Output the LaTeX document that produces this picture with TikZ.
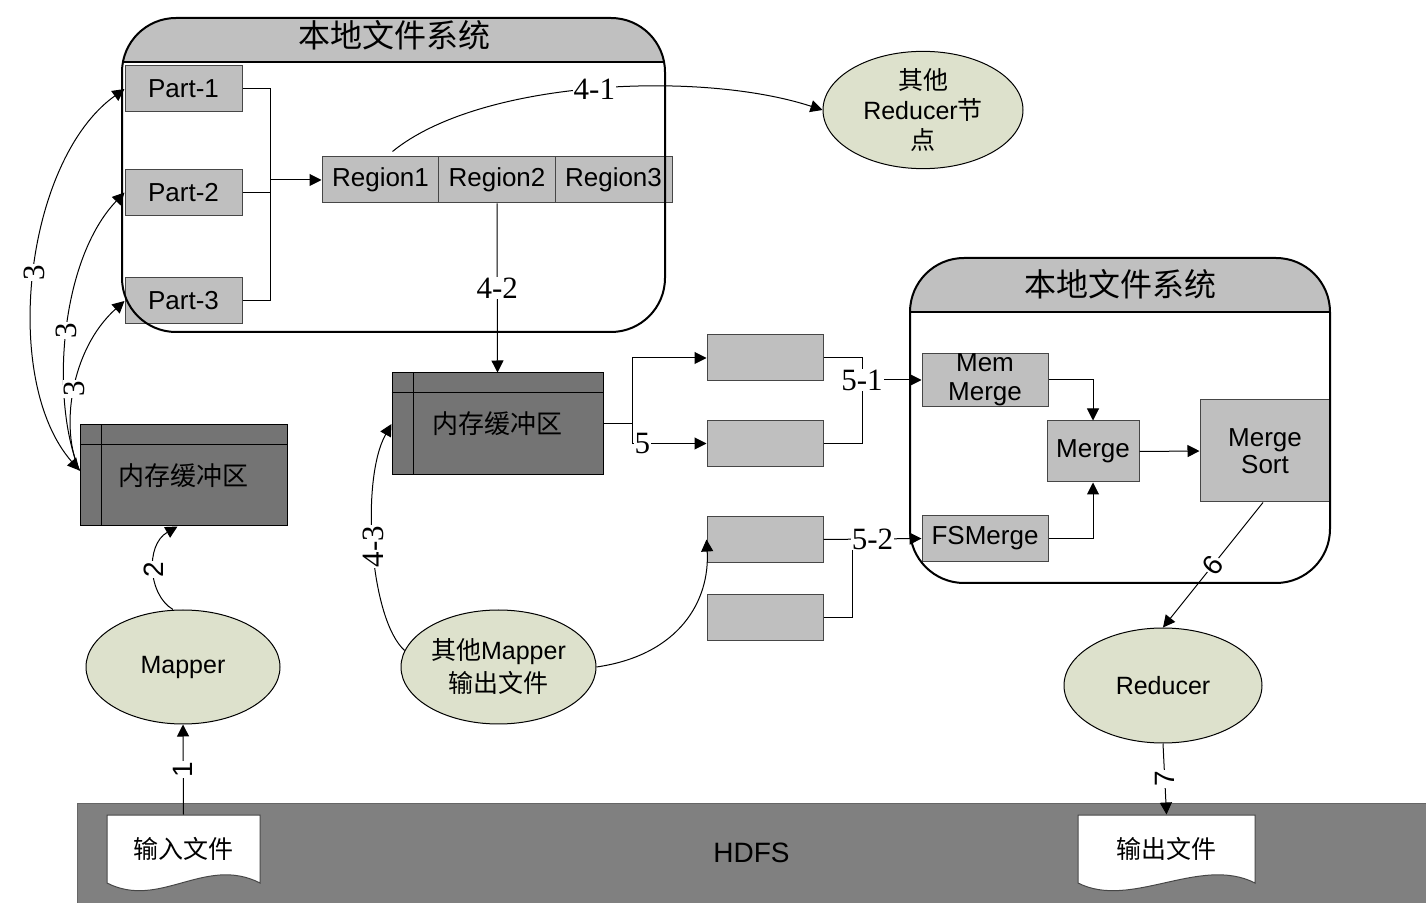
\documentclass[tikz,border=0pt]{standalone}
\usepackage{fontspec}
\setmainfont{Liberation Sans}
\newfontfamily\cjk{Noto Sans CJK SC}
\newfontfamily\numfont{Liberation Serif}
\usetikzlibrary{arrows.meta,shapes.geometric}

\definecolor{boxgray}{RGB}{191,191,191}
\definecolor{boxedge}{RGB}{70,70,70}
\definecolor{headgray}{RGB}{192,192,192}
\definecolor{bufgray}{RGB}{116,116,116}
\definecolor{hdfsgray}{RGB}{128,128,128}
\definecolor{nodegreen}{RGB}{221,225,204}

% local file system frame: x1,y1,x2,y2,header height (pixels)
\newcommand\localfs[5]{
  \fill[white, rounded corners=27pt] (#1,#2) rectangle (#3,#4);
  \begin{scope}
    \clip[rounded corners=27pt] (#1,#2) rectangle (#3,#4);
    \fill[headgray] (#1,#2) rectangle (#3,#2+#5);
  \end{scope}
  \draw[line width=1pt] (#1,#2+#5) -- (#3,#2+#5);
}
% document shape with wavy bottom: centre x, centre y, half width
\newcommand\docshape[3]{
  \draw[fill=white, draw=boxedge] (#1-#3,#2-34) -- (#1+#3,#2-34) -- (#1+#3,#2+34)
    .. controls (#1+#3-55,#2+6) and (#1-#3+53,#2+61) .. (#1-#3,#2+34) -- cycle;
}
% inner lines of a memory buffer
\newcommand\bufferlines[1]{
  \draw ([yshift=-10pt]#1.north west) -- ([yshift=-10pt]#1.north east);
  \draw ([xshift=11pt]#1.north west) -- ([xshift=11pt]#1.south west);
}

\begin{document}
\begin{tikzpicture}[x=0.5pt,y=-0.5pt,line width=0.5pt,
  box/.style={draw=boxedge, fill=boxgray, inner sep=0pt, minimum width=58.5pt,
    minimum height=23pt, font=\fontsize{13}{14.5}\selectfont, align=center},
  buf/.style={draw, fill=bufgray, inner sep=0pt, font=\cjk\fontsize{13}{15}\selectfont},
  proc/.style={ellipse, draw, fill=nodegreen, inner sep=0pt, align=center,
    font=\fontsize{12.5}{15}\selectfont},
  doc/.style={inner sep=0pt, minimum height=34pt, font=\cjk\fontsize{12.5}{15}\selectfont},
  title/.style={font=\cjk\fontsize{16}{18}\selectfont},
  lbl/.style={font=\numfont\fontsize{15.5}{17}\selectfont, fill=white, inner sep=0.5pt},
  slbl/.style={font=\fontsize{14}{16}\selectfont, fill=white, inner sep=0.5pt},
  flow/.style={-{Triangle[length=6pt,width=6pt]}},
  fsborder/.style={line width=1pt, rounded corners=27pt}]

\useasboundingbox (0,0) rectangle (1426,903);

% HDFS
\node[draw=hdfsgray!80!black, fill=hdfsgray, inner sep=0pt, minimum width=674.5pt,
  minimum height=50pt, font=\fontsize{14}{16}\selectfont] (hdfs) at (751.5,853) {HDFS};
\docshape{183.5}{849}{76.5}
\node[doc, minimum width=76.5pt] (indoc) at (183.5,849) {输入文件};
\docshape{1166.5}{849}{88.5}
\node[doc, minimum width=88.5pt] (outdoc) at (1166.5,849) {输出文件};

% Local file systems
\localfs{122}{18}{665}{332}{44}
\node[title] (fsatitle) at (394,35) {本地文件系统};
\localfs{910}{258}{1330}{583}{54}
\node[title] (fsbtitle) at (1120,284) {本地文件系统};

% Parts and regions
\foreach \i/\y in {1/89,2/192.5,3/301}
  \node[box] (part\i) at (183.5,\y) {Part-\i};
\foreach \i/\x in {1/380.5,2/497,3/613.5}
  \node[box] (reg\i) at (\x,180) {Region\i};
\coordinate (pbus) at (270,180);
\draw (part1.east) -| (pbus);
\draw (part3.east) -| (pbus);
\draw (part2.east) -- (part2.east -| pbus);
\draw[flow] (pbus) -- (reg1.west);

% Memory buffers
\node[buf, minimum width=103.5pt, minimum height=50.5pt] (buf1) at (183.5,475.5) {内存缓冲区};
\bufferlines{buf1}
\node[buf, minimum width=105.5pt, minimum height=51pt] (buf2) at (497.5,424) {内存缓冲区};
\bufferlines{buf2}

% Mappers, reducers
\node[proc, minimum width=97pt, minimum height=57pt] (mapper) at (183,667) {Mapper};
\node[proc, minimum width=97.5pt, minimum height=57pt] (othmap) at (498.5,667)
  {{\cjk 其他}Mapper\\[1.5pt]{\cjk 输出文件}};
\node[proc, minimum width=100pt, minimum height=57pt] (othred) at (923,110)
  {{\cjk 其他}\\Reducer{\cjk 节}\\{\cjk 点}};
\node[proc, minimum width=99pt, minimum height=57.5pt] (reducer) at (1163,685.5) {Reducer};

% Spill files
\foreach \n/\y in {A/358,B/443.5,C/539.5,D/617.5}
  \node[box, minimum width=58pt] (spill\n) at (765,\y) {};

% Merge boxes
\node[box, minimum width=63pt, font=\fontsize{13}{14.5}\selectfont] (memm) at (985,380) {Mem\\Merge};
\node[box, minimum width=63pt] (fsm) at (985,538.5) {FSMerge};
\node[box, minimum width=46pt, minimum height=30.5pt] (merge) at (1093,451.5) {Merge};
\node[box, minimum width=65pt, minimum height=51pt, font=\fontsize{13}{13.5}\selectfont] (msort) at (1265,451) {Merge\\Sort};

% 1, 2, 3
\draw[flow] (indoc.north) -- node[slbl, rotate=90] {1} (mapper.south);
\draw[flow] ([xshift=-5pt]mapper.north) .. controls (148,595) and (145,545) ..
  node[slbl, rotate=90] {2} ([xshift=-3pt]buf1.south);
\coordinate (b1in) at ([yshift=2.5pt]buf1.west);
\draw[{Triangle[length=6pt,width=6pt]}-{Triangle[length=6pt,width=6pt]}] (b1in)
  .. controls (0,380) and (25,160) .. node[lbl, rotate=90] {3} (part1.west);
\draw[flow] (b1in) .. controls (50,400) and (60,260) .. node[lbl, rotate=90] {3} (part2.west);
\draw[flow] (b1in) .. controls (60,430) and (70,350) .. node[lbl, rotate=90] {3} (part3.west);

% 4-x
\draw[flow] ([xshift=6pt,yshift=2.5pt]reg1.north) .. controls (480,80) and (700,70) ..
  node[lbl] {4-1} (othred.west);
\draw[flow] (reg2.south) -- node[lbl] {4-2} (buf2.north);
\draw[flow] (othmap.170) .. controls (370,620) and (360,480) ..
  node[lbl, rotate=90] {4-3} (buf2.west);
\draw[flow] (othmap.east) .. controls (680,655) and (710,600) .. (spillC.west);

% 5-x
\coordinate (sbus) at (632,424);
\draw (buf2.east) -- (sbus);
\draw[flow] (sbus) |- (spillA.west);
\draw[flow] (sbus) |- node[lbl, pos=.57] {5} (spillB.west);
\coordinate (mbus1) at (862,380);
\draw (spillA.east) -| (mbus1);
\draw (spillB.east) -| (mbus1);
\draw[flow] (mbus1) node[lbl] {5-1} -- (memm.west);
\coordinate (mbus2) at (852,539.5);
\draw (spillD.east) -| (mbus2);
\draw[flow] (spillC.east) -- node[lbl] {5-2} (fsm.west);
\draw[flow] (memm.east) -| (merge.north);
\draw[flow] (fsm.east) -| (merge.south);
\draw[flow] (merge.east) -- (msort.west);

% 6, 7
\draw[flow] ([xshift=-1pt]msort.south) -- node[slbl, sloped] {6} (reducer.north);
\draw[flow] (reducer.south) -- node[slbl, rotate=90] {7} (outdoc.north);

% frame borders on top
\draw[fsborder] (122,18) rectangle (665,332);
\draw[fsborder] (910,258) rectangle (1330,583);

\end{tikzpicture}
\end{document}
